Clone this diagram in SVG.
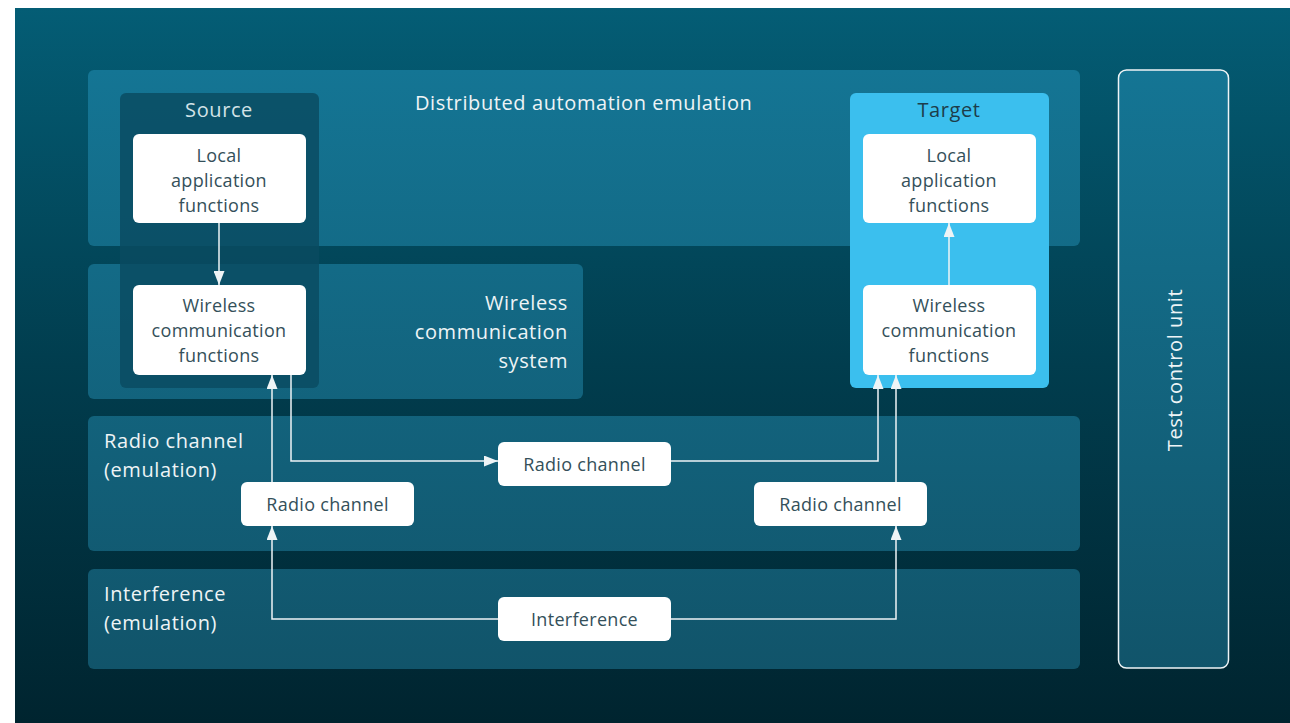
<svg xmlns="http://www.w3.org/2000/svg" width="1290" height="723" viewBox="0 0 1290 723">
<defs>
<linearGradient id="bg" gradientUnits="userSpaceOnUse" x1="0" y1="8" x2="0" y2="723">
<stop offset="0" stop-color="#045d75"/>
<stop offset="0.5" stop-color="#013d4e"/>
<stop offset="1" stop-color="#00242f"/>
</linearGradient>
<linearGradient id="pn" gradientUnits="userSpaceOnUse" x1="0" y1="70" x2="0" y2="669">
<stop offset="0" stop-color="#147594"/>
<stop offset="1" stop-color="#11546a"/>
</linearGradient>
<marker id="ah" viewBox="0 0 14 11" refX="14" refY="5.5" markerWidth="14" markerHeight="11" markerUnits="userSpaceOnUse" orient="auto">
<path d="M0,0 L14,5.5 L0,11 z" fill="#eef4f6"/>
</marker>
<style>
.panel{fill:url(#pn)}
.box{fill:#ffffff}
.lbl{font-family:"Open Sans","Liberation Sans",Arial,sans-serif;font-size:20px;letter-spacing:0.6px;fill:#eef4f6}
.btxt{font-family:"Open Sans","Liberation Sans",Arial,sans-serif;font-size:18px;letter-spacing:0.3px;fill:#34505a;text-anchor:middle}
.conn{fill:none;stroke:#eef4f6;stroke-width:1.5}
</style>
</defs>
<rect x="15" y="8" width="1275" height="715" fill="url(#bg)"/>

<g id="panel-dae">
<rect class="panel" x="88" y="70" width="992" height="176" rx="6"/>
<text class="lbl" x="415" y="110">Distributed automation emulation</text>
</g>
<g id="panel-wcs">
<rect class="panel" x="88" y="264" width="495" height="135" rx="6"/>
<text class="lbl" x="568" y="310" text-anchor="end">Wireless</text>
<text class="lbl" x="568" y="339" text-anchor="end">communication</text>
<text class="lbl" x="568" y="368" text-anchor="end">system</text>
</g>
<g id="panel-radio">
<rect class="panel" x="88" y="416" width="992" height="135" rx="6"/>
<text class="lbl" x="104" y="448">Radio channel</text>
<text class="lbl" x="104" y="477">(emulation)</text>
</g>
<g id="panel-interf">
<rect class="panel" x="88" y="569" width="992" height="100" rx="6"/>
<text class="lbl" x="104" y="601">Interference</text>
<text class="lbl" x="104" y="630">(emulation)</text>
</g>
<g id="test-control-unit">
<rect x="1118.5" y="70" width="110" height="598" rx="8" fill="url(#pn)" stroke="#eef4f6" stroke-width="1.5"/>
<text class="lbl" transform="translate(1182,370) rotate(-90)" text-anchor="middle">Test control unit</text>
</g>

<g id="source">
<rect x="120" y="93" width="199" height="295" rx="6" fill="#0a4a60" opacity="0.82"/>
<text class="lbl" x="219" y="117" text-anchor="middle" style="fill:#d3e2e7">Source</text>
</g>
<g id="source-local">
<rect class="box" x="133" y="134" width="173" height="89" rx="6"/>
<text class="btxt" x="219" y="162">Local</text>
<text class="btxt" x="219" y="187">application</text>
<text class="btxt" x="219" y="212">functions</text>
</g>
<g id="source-wireless">
<rect class="box" x="133" y="285" width="173" height="90" rx="6"/>
<text class="btxt" x="219" y="312">Wireless</text>
<text class="btxt" x="219" y="337">communication</text>
<text class="btxt" x="219" y="362">functions</text>
</g>

<g id="target">
<rect x="850" y="93" width="199" height="295" rx="6" fill="#3bbfee"/>
<text class="lbl" x="949" y="117" text-anchor="middle" style="fill:#1d3d4a">Target</text>
</g>
<g id="target-local">
<rect class="box" x="863" y="134" width="173" height="89" rx="6"/>
<text class="btxt" x="949" y="162">Local</text>
<text class="btxt" x="949" y="187">application</text>
<text class="btxt" x="949" y="212">functions</text>
</g>
<g id="target-wireless">
<rect class="box" x="863" y="285" width="173" height="90" rx="6"/>
<text class="btxt" x="949" y="312">Wireless</text>
<text class="btxt" x="949" y="337">communication</text>
<text class="btxt" x="949" y="362">functions</text>
</g>

<g id="radio-left">
<rect class="box" x="241" y="482" width="173" height="44" rx="6"/>
<text class="btxt" x="327.5" y="511">Radio channel</text>
</g>
<g id="radio-center">
<rect class="box" x="498" y="442" width="173" height="44" rx="6"/>
<text class="btxt" x="584.5" y="471">Radio channel</text>
</g>
<g id="radio-right">
<rect class="box" x="754" y="482" width="173" height="44" rx="6"/>
<text class="btxt" x="840.5" y="511">Radio channel</text>
</g>
<g id="interference">
<rect class="box" x="498" y="597" width="173" height="44" rx="6"/>
<text class="btxt" x="584.5" y="626">Interference</text>
</g>

<g id="connectors">
<path class="conn" d="M219,223 V285" marker-end="url(#ah)"/>
<path class="conn" d="M291,375 V461 H498" marker-end="url(#ah)"/>
<path class="conn" d="M671,461 H878 V375" marker-end="url(#ah)"/>
<path class="conn" d="M272,482 V375" marker-end="url(#ah)"/>
<path class="conn" d="M896,482 V375" marker-end="url(#ah)"/>
<path class="conn" d="M949,285 V223" marker-end="url(#ah)"/>
<path class="conn" d="M498,619 H272 V526" marker-end="url(#ah)"/>
<path class="conn" d="M671,619 H896 V526" marker-end="url(#ah)"/>
</g>
</svg>
